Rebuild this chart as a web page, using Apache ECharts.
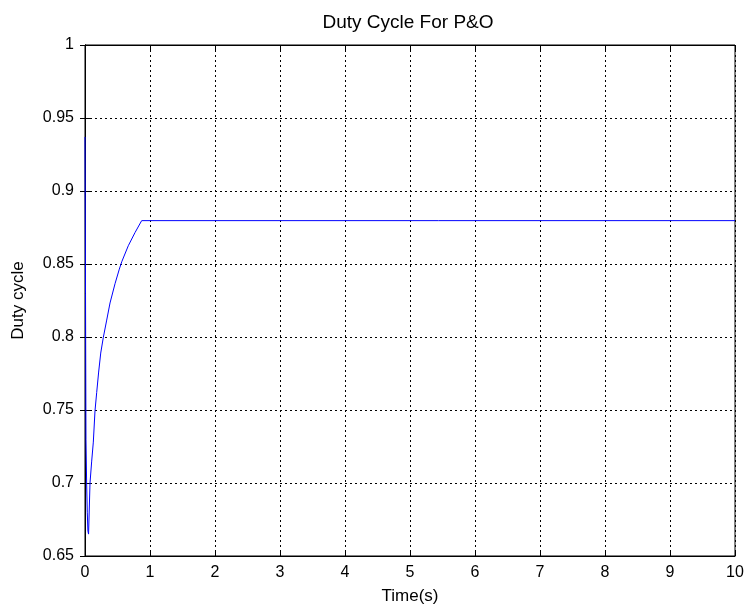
<!DOCTYPE html>
<html>
<head>
  <meta charset="utf-8">
  <style>
    body { margin: 0; background: #fff; }
    #container { width: 747px; height: 610px; }
  </style>
</head>
<body>
  <div id="container"></div>
  <script src="https://cdn.jsdelivr.net/npm/echarts@6/dist/echarts.min.js"></script>
  <script>
    // data
    var timeData = [0, 0.008, 0.015, 0.025, 0.035, 0.045, 0.055, 0.062, 0.077, 0.103, 0.128, 0.154, 0.18, 0.21, 0.242, 0.282, 0.334, 0.385, 0.462, 0.528, 0.565, 0.666, 0.769, 0.872, 10];
    var dutyData = [0.937, 0.83, 0.73, 0.70, 0.68, 0.667, 0.665, 0.665, 0.70, 0.715, 0.728, 0.7495, 0.762, 0.776, 0.789, 0.7998, 0.8116, 0.8233, 0.8365, 0.8465, 0.8515, 0.8625, 0.8715, 0.8797, 0.8797];

    var xMin = 0, xMax = 10, xStep = 1;
    var yMin = 0.65, yMax = 1, yStep = 0.05;

    var points = [];
    for (var i = 0; i < timeData.length; i++) {
      points.push([timeData[i], dutyData[i]]);
    }

    var font = 'Liberation Sans, Arial, sans-serif';
    var gridLine = { show: true, lineStyle: { color: '#000', type: [2, 3], width: 1 } };

    var myChart = echarts.init(document.getElementById('container'), null, { renderer: 'canvas' });

    var option = {
      animation: false,
      title: {
        text: 'Duty Cycle For P&O',
        left: 408,
        top: 13,
        padding: 0,
        textAlign: 'center',
        textStyle: { fontFamily: font, fontSize: 19, fontWeight: 'normal', color: '#000' }
      },
      grid: {
        left: 85, right: 12, top: 45, bottom: 54,
        show: true, borderColor: '#000', borderWidth: 1, backgroundColor: '#fff'
      },
      xAxis: [{
        type: 'value', min: xMin, max: xMax, interval: xStep,
        name: 'Time(s)', nameLocation: 'middle', nameGap: 32,
        nameTextStyle: { fontFamily: font, fontSize: 17, color: '#000' },
        axisLine: { show: true, lineStyle: { color: '#000' } },
        axisTick: { show: true, inside: true, length: 5, lineStyle: { color: '#000' } },
        axisLabel: { fontFamily: font, fontSize: 16, color: '#000', margin: 9 },
        splitLine: gridLine
      }, {
        type: 'value', min: xMin, max: xMax, interval: xStep, position: 'top',
        axisLine: { show: true, lineStyle: { color: '#000' } },
        axisTick: { show: true, inside: true, length: 5, lineStyle: { color: '#000' } },
        axisLabel: { show: false }, splitLine: { show: false }
      }],
      yAxis: [{
        type: 'value', min: yMin, max: yMax, interval: yStep,
        name: 'Duty cycle', nameLocation: 'middle', nameGap: 58,
        nameTextStyle: { fontFamily: font, fontSize: 17, color: '#000' },
        axisLine: { show: true, lineStyle: { color: '#000' } },
        axisTick: { show: true, inside: true, length: 5, lineStyle: { color: '#000' } },
        axisLabel: {
          fontFamily: font, fontSize: 16, color: '#000', margin: 11,
          formatter: function (v) { return String(Number(v.toFixed(2))); }
        },
        splitLine: gridLine
      }, {
        type: 'value', min: yMin, max: yMax, interval: yStep, position: 'right',
        axisLine: { show: true, lineStyle: { color: '#000' } },
        axisTick: { show: true, inside: true, length: 5, lineStyle: { color: '#000' } },
        axisLabel: { show: false }, splitLine: { show: false }
      }],
      series: [{
        type: 'line',
        data: points,
        showSymbol: false,
        lineStyle: { color: '#0000ff', width: 1 },
        itemStyle: { color: '#0000ff' }
      }]
    };

    myChart.setOption(option);
    window.addEventListener('resize', myChart.resize);
  </script>
</body>
</html>
